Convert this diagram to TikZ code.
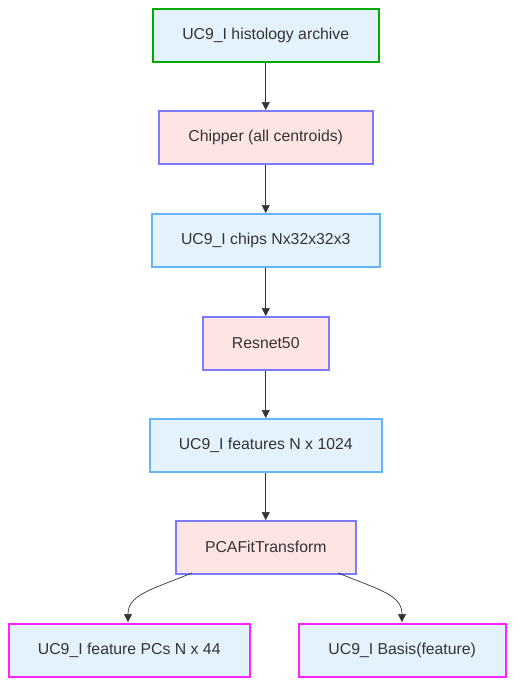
\documentclass[tikz,border=0pt]{standalone}
\usepackage{fontspec}
\setmainfont{Liberation Sans}
\usetikzlibrary{arrows.meta}
\definecolor{lblue}{HTML}{E3F2FD}
\definecolor{lpink}{HTML}{FFE4E4}
\definecolor{bblue}{HTML}{7B7BFF}
\definecolor{sblue}{HTML}{64B5F6}
\definecolor{ggreen}{HTML}{00AA00}
\definecolor{mmag}{HTML}{FF22FF}
\definecolor{txt}{HTML}{333333}
\definecolor{edge}{HTML}{333333}
\tikzset{
  box/.style={draw, line width=1.5pt, inner sep=0pt, text=txt, font=\fontsize{15.8}{19}\selectfont, anchor=north west},
  datab/.style={box, fill=lblue, draw=sblue},
  procb/.style={box, fill=lpink, draw=bblue},
  srcb/.style={box, fill=lblue, draw=ggreen},
  outb/.style={box, fill=lblue, draw=mmag},
  conn/.style={draw=edge, line width=0.7pt, -{Triangle[length=8pt,width=8pt]}}
}
\begin{document}
\begin{tikzpicture}[x=1pt,y=-1pt]
\useasboundingbox (0,0) rectangle (521,694);
\node[srcb, minimum width=226pt, minimum height=53pt] (a) at (152,8) {UC9\_I histology archive};
\node[procb, minimum width=214pt, minimum height=53pt] (b) at (158,110) {Chipper (all centroids)};
\node[datab, minimum width=228pt, minimum height=53pt] (c) at (151,213) {UC9\_I chips Nx32x32x3};
\node[procb, minimum width=126pt, minimum height=53pt] (d) at (202,316) {Resnet50};
\node[datab, minimum width=232pt, minimum height=53pt] (e) at (149,418) {UC9\_I features N x 1024};
\node[procb, minimum width=180pt, minimum height=53pt] (f) at (175,520) {PCAFitTransform};
\node[outb, minimum width=241pt, minimum height=53pt] (g) at (8,623) {UC9\_I feature PCs N x 44};
\node[outb, minimum width=207pt, minimum height=53pt] (h) at (298,623) {UC9\_I Basis(feature)};
\draw[conn] (a.south) -- (b.north);
\draw[conn] (b.south) -- (c.north);
\draw[conn] (c.south) -- (d.north);
\draw[conn] (d.south) -- (e.north);
\draw[conn] (e.south) -- (f.north);
\coordinate (f1) at (192,573);
\coordinate (f2) at (338,573);
\coordinate (g1) at (128,622);
\coordinate (h1) at (402,622);
\draw[conn] (f1) .. controls (150,590) and (128,595) .. (g1);
\draw[conn] (f2) .. controls (380,590) and (402,595) .. (h1);
\end{tikzpicture}
\end{document}
